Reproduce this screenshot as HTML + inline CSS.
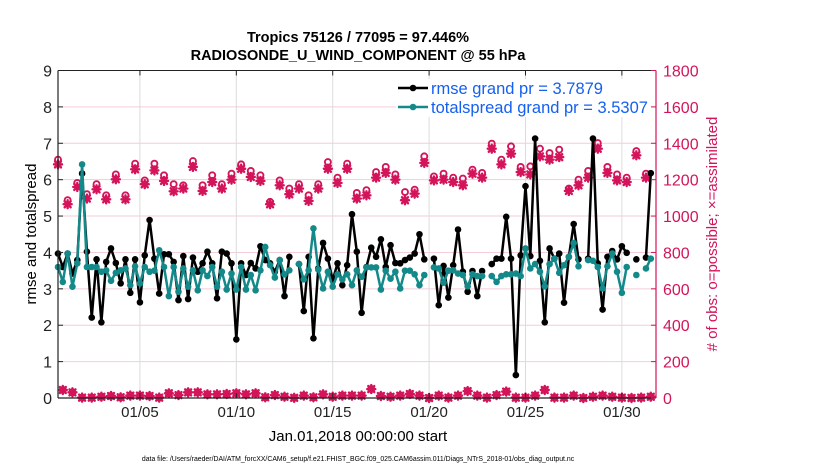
<!DOCTYPE html>
<html><head><meta charset="utf-8">
<style>
html,body{margin:0;padding:0;background:#fff;}
svg{display:block;font-family:"Liberation Sans",Arial,sans-serif;}
</style></head>
<body>
<svg id="chart" width="830" height="470" viewBox="0 0 830 470" xmlns="http://www.w3.org/2000/svg">
<text x="358" y="42" text-anchor="middle" font-size="14.5" font-weight="bold">Tropics 75126 / 77095 = 97.446%</text>
<text x="358" y="60" text-anchor="middle" font-size="14.5" font-weight="bold">RADIOSONDE_U_WIND_COMPONENT @ 55 hPa</text>
<g id="grid"></g>
<g id="marks"></g>
<g id="axes"></g>
<text transform="translate(36,234) rotate(-90)" text-anchor="middle" font-size="15">rmse and totalspread</text>
<text transform="translate(717,234) rotate(-90)" text-anchor="middle" font-size="15" fill="#d4145a"># of obs: o=possible; ×=assimilated</text>
<text x="358" y="441" text-anchor="middle" font-size="15">Jan.01,2018 00:00:00 start</text>
<text x="358" y="461" text-anchor="middle" font-size="6.9">data file: /Users/raeder/DAI/ATM_forcXX/CAM6_setup/f.e21.FHIST_BGC.f09_025.CAM6assim.011/Diags_NTrS_2018-01/obs_diag_output.nc</text>
<g>
<rect x="396" y="79" width="255" height="38" fill="#fff"/>
<g>
<line x1="398" y1="88" x2="428" y2="88" stroke="#000" stroke-width="2.5"/>
<circle cx="413" cy="88" r="3.3" fill="#000"/>
<text x="431" y="94" font-size="16.5" fill="#1560f0">rmse grand pr = 3.7879</text>
</g>
<g>
<line x1="398" y1="107" x2="428" y2="107" stroke="#13898a" stroke-width="2.5"/>
<circle cx="413" cy="107" r="3.3" fill="#13898a"/>
<text x="431" y="113" font-size="16.5" fill="#1560f0">totalspread grand pr = 3.5307</text>
</g>
</g>
</svg>
<script>
const rmse = [3.97,3.60,3.97,3.42,3.79,6.17,4.02,2.21,3.81,2.08,3.74,4.11,3.71,3.15,3.81,2.89,3.81,2.63,3.92,4.89,3.83,2.87,3.95,3.95,3.74,2.69,3.90,2.72,3.86,3.47,3.70,4.02,3.70,2.74,4.02,3.97,3.70,1.61,3.70,3.38,3.71,3.56,4.17,
3.79,3.70,3.47,3.79,2.80,3.88,null,3.68,2.39,3.88,1.64,3.56,4.26,3.83,3.24,3.70,3.10,3.65,5.05,4.02,2.34,3.60,4.13,3.88,4.36,3.60,4.20,3.71,3.70,3.79,3.86,3.97,4.50,3.81,null,3.83,2.55,3.63,2.76,3.65,4.63,
3.47,2.92,3.49,2.80,3.49,null,3.68,3.83,3.83,4.98,3.83,0.63,3.92,5.82,3.90,7.13,3.77,2.08,4.11,3.83,3.97,2.62,3.88,4.78,3.81,null,3.83,7.13,3.70,2.43,3.88,4.04,3.81,4.17,3.99,null,3.81,null,3.86,6.18];
const spread = [3.60,3.19,3.97,3.06,3.70,6.42,3.60,3.60,3.60,3.47,3.51,3.22,3.44,3.51,3.56,3.10,3.62,3.15,3.60,3.47,3.50,4.06,3.60,2.80,3.60,2.92,3.56,3.06,3.51,2.96,3.51,3.35,3.60,3.06,3.47,2.98,3.42,2.98,3.60,2.98,3.38,2.96,3.51,
4.15,3.65,3.31,3.79,3.40,3.51,null,3.68,3.26,3.51,4.66,3.53,3.01,3.47,3.06,3.40,3.26,3.40,3.10,3.51,3.33,3.59,3.59,3.59,2.98,3.50,3.28,3.47,3.01,3.50,3.50,3.40,3.10,3.38,null,3.59,3.56,3.17,3.50,3.51,3.42,
3.38,3.07,3.40,3.35,3.35,null,3.35,3.19,3.35,3.40,3.40,3.42,3.35,4.11,3.56,3.68,3.47,3.07,3.68,3.83,3.44,3.65,3.88,4.26,3.62,null,3.79,3.77,3.60,3.01,3.62,3.97,3.47,2.89,3.60,null,3.38,null,3.56,3.83];
const possible00z12z = [1310,1087,1182,1120,1175,1114,1229,1114,1288,1196,1288,1224,1175,1169,1302,1169,1224,1175,1233,1284,1248,1224,1078,1196,1151,1175,1114,1175,1297,1211,1288,1127,1142,1242,1270,1229,1132,1145,1328,1218,1233,1211,1206,1255,1237,1398,1310,1383,1270,1273,1370,1346,1365,1151,1200,1248,1401,1270,1229,1211,1357,1233];
const assim00z12z = [1284,1065,1160,1096,1147,1092,1202,1092,1257,1175,1251,1193,1136,1151,1270,1138,1187,1151,1200,1260,1215,1193,1065,1169,1120,1151,1083,1151,1260,1182,1260,1096,1114,1211,1237,1200,1087,1123,1292,1196,1200,1187,1169,1233,1211,1370,1284,1343,1242,1229,1328,1310,1324,1138,1169,1211,1370,1237,1196,1187,1334,1211];
const counts06z18z = [44,31,2,2,7,11,4,13,13,11,2,26,16,31,31,20,20,22,26,20,26,4,16,7,1,13,4,20,7,13,13,13,49,11,7,13,22,13,0,13,2,13,38,13,2,16,35,2,2,13,44,2,2,13,0,7,13,7,2,0,2,7];
const leftTicks = [0,1,2,3,4,5,6,7,8,9];
const rightTicks = [0,200,400,600,800,1000,1200,1400,1600,1800];
const dateTickDays = [4,9,14,19,24,29];
const dateTickLabels = ["01/05","01/10","01/15","01/20","01/25","01/30"];

const NS="http://www.w3.org/2000/svg";
const X0=58,X1=656,Y0=398,Y1=70.5;
const DAY0=-0.25,DAY1=30.77;
function xs(d){return X0+(d-DAY0)/(DAY1-DAY0)*(X1-X0);}
function yl(v){return Y0-v/9*(Y0-Y1);}
function yr(v){return Y0-v/1800*(Y0-Y1);}
function dayOf(i){return -0.25+i*0.25;}
function mk(tag,attrs,parent){const e=document.createElementNS(NS,tag);for(const k in attrs)e.setAttribute(k,attrs[k]);parent.appendChild(e);return e;}
const grid=document.getElementById('grid'),marks=document.getElementById('marks'),axes=document.getElementById('axes');
const PINK="#d4145a",TEAL="#13898a";

leftTicks.forEach(v=>{if(v===0||v===9)return;const l=mk('line',{x1:X0,x2:X1,y1:yl(v),y2:yl(v),stroke:"#f3cdda","stroke-width":1},grid);

});
dateTickDays.forEach(d=>{const l=mk('line',{x1:xs(d),x2:xs(d),y1:Y1,y2:Y0,stroke:"#dcdcdc","stroke-width":1},grid);

});

const N=rmse.length;
const possible=[],assim=[];
for(let i=0;i<N;i++){if(i%2===0){possible.push(possible00z12z[i/2]);assim.push(assim00z12z[i/2]);}else{possible.push(counts06z18z[(i-1)/2]);assim.push(counts06z18z[(i-1)/2]);}}
for(let i=0;i<N;i++){
  const x=xs(dayOf(i));
  if(assim[i]!=null){const ya=yr(assim[i]);const g=mk('g',{stroke:PINK,"stroke-width":2.4,"stroke-linecap":"round"},marks);
  
  
  mk('line',{x1:x-4,x2:x+4,y1:ya,y2:ya},g);mk('line',{x1:x,x2:x,y1:ya-4,y2:ya+4},g);
  mk('line',{x1:x-3,x2:x+3,y1:ya-3,y2:ya+3},g);mk('line',{x1:x-3,x2:x+3,y1:ya+3,y2:ya-3},g);}
  if(possible[i]!=null){const c=mk('circle',{cx:x,cy:yr(possible[i]),r:3,fill:"none",stroke:PINK,"stroke-width":1.9},marks);
  
  }
}
function series(arr,color,name){
  let d="";let pen=false;
  arr.forEach((v,i)=>{if(v==null){pen=false;return;}d+=(pen?"L":"M")+xs(dayOf(i)).toFixed(2)+","+yl(v).toFixed(2);pen=true;});
  const p=mk('path',{d:d,fill:"none",stroke:color,"stroke-width":2.5,"stroke-linejoin":"round"},marks);
  
  
  arr.forEach((v,i)=>{if(v==null)return;const c=mk('circle',{cx:xs(dayOf(i)),cy:yl(v),r:3.3,fill:color},marks);
  
  });
}
series(rmse,"#000","rmse");
series(spread,TEAL,"totalspread");

let a;
a=mk('line',{x1:X0,x2:X1,y1:Y1,y2:Y1,stroke:"#222","stroke-width":1},axes);


a=mk('line',{x1:X0,x2:X1,y1:Y0,y2:Y0,stroke:"#222","stroke-width":1.2},axes);


a=mk('line',{x1:X0,x2:X0,y1:Y1,y2:Y0,stroke:"#222","stroke-width":1.2},axes);


a=mk('line',{x1:X1,x2:X1,y1:Y1,y2:Y0,stroke:PINK,"stroke-width":1.2},axes);


leftTicks.forEach(v=>{const y=yl(v);
  mk('line',{x1:X0,x2:X0+5,y1:y,y2:y,stroke:"#222"},axes);
  const t=mk('text',{x:X0-6,y:y+6,"text-anchor":"end","font-size":16,fill:"#222"},axes);t.textContent=v;
  
  });
rightTicks.forEach(v=>{const y=yr(v);
  mk('line',{x1:X1-5,x2:X1,y1:y,y2:y,stroke:PINK},axes);
  const t=mk('text',{x:X1+7,y:y+6,"font-size":16,fill:PINK},axes);t.textContent=v;
  
  });
dateTickDays.forEach((d,k)=>{const x=xs(d);
  mk('line',{x1:x,x2:x,y1:Y0,y2:Y0-5,stroke:"#222"},axes);
  mk('line',{x1:x,x2:x,y1:Y1,y2:Y1+5,stroke:"#222"},axes);
  const t=mk('text',{x:x,y:417,"text-anchor":"middle","font-size":15,fill:"#222"},axes);t.textContent=dateTickLabels[k];
  
  });
</script>
</body></html>
